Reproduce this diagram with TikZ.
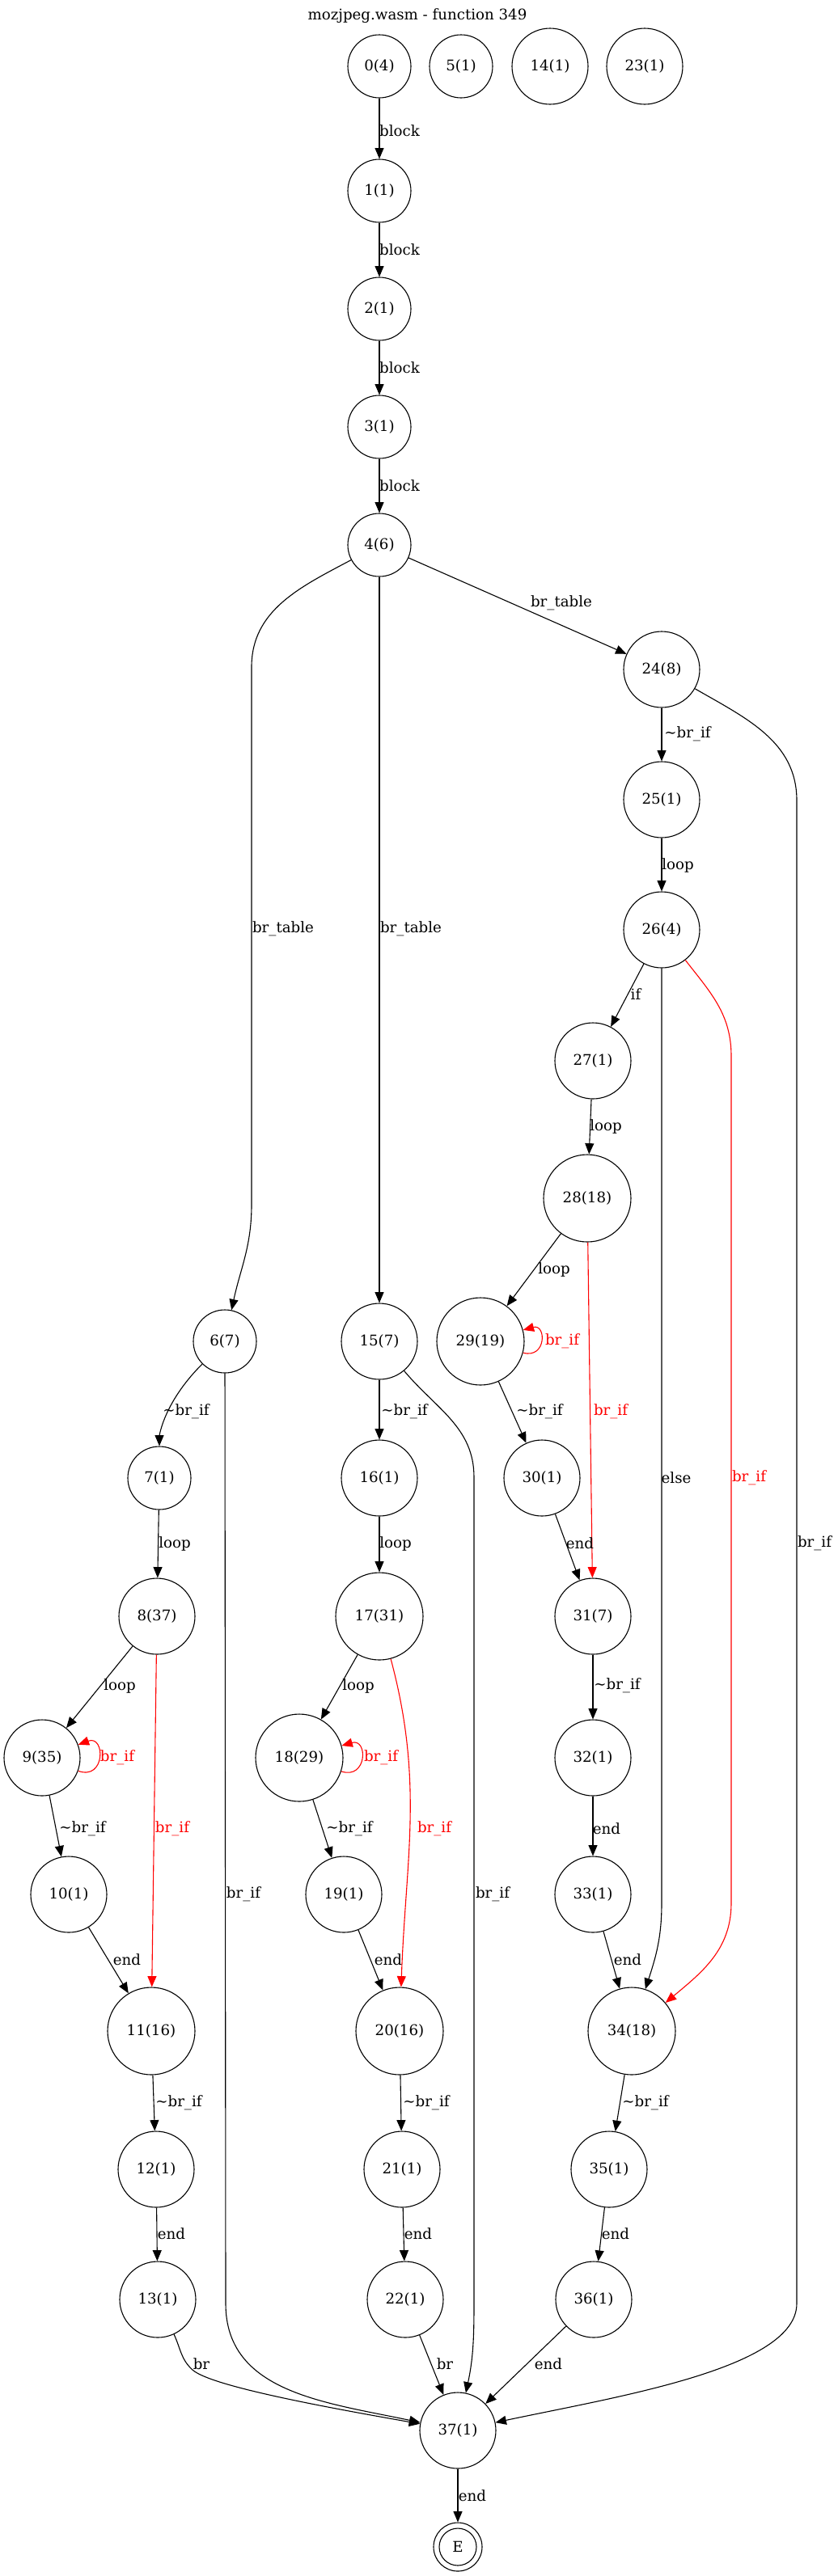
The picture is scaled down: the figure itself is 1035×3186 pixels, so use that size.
\documentclass[tikz,border=0pt]{standalone}
\usepackage{fontspec}
\setmainfont{DejaVu Serif}
\usetikzlibrary{arrows.meta}
\tikzset{
  bblock/.style={circle, draw, line width=0.55pt, inner sep=0pt, minimum size=#1},
  bblock/.default=39pt,
  flow/.style={draw, line width=0.55pt, -{Triangle[length=6.7pt,width=5.5pt]}},
  rflow/.style={flow, red},
  elab/.style={inner sep=0pt},
  relab/.style={elab, text=red},
}
\newcommand{\nbr}{\textasciitilde br\_if}
\begin{document}
\begin{tikzpicture}[x=0.5pt, y=-0.5pt, font=\fontsize{9.1}{11}\selectfont]
\useasboundingbox (0,0) rectangle (1035,3186);
\node (title) at (516,20) {mozjpeg.wasm - function 349};
% blocks, top row
\node[bblock] (b0) at (469,82) {0(4)};
\node[bblock] (b5) at (570,82) {5(1)};
\node[bblock=47pt] (b14) at (680,82) {14(1)};
\node[bblock=47pt] (b23) at (797,82) {23(1)};
\node[bblock] (b1) at (469,236) {1(1)};
\node[bblock] (b2) at (469,382) {2(1)};
\node[bblock] (b3) at (469,528) {3(1)};
\node[bblock] (b4) at (469,674) {4(6)};
% right branch
\node[bblock=47pt] (b24) at (818,828) {24(8)};
\node[bblock=47pt] (b25) at (818,989) {25(1)};
\node[bblock=47pt] (b26) at (818,1150) {26(4)};
\node[bblock=47pt] (b27) at (733,1312) {27(1)};
\node[bblock=54pt] (b28) at (726,1482) {28(18)};
\node[bblock=54pt] (b29) at (594,1659) {29(19)};
\node[bblock=47pt] (b30) at (670,1828) {30(1)};
\node[bblock=47pt] (b31) at (733,1999) {31(7)};
\node[bblock=47pt] (b32) at (733,2174) {32(1)};
\node[bblock=47pt] (b33) at (733,2343) {33(1)};
\node[bblock=54pt] (b34) at (781,2512) {34(18)};
\node[bblock=47pt] (b35) at (753,2683) {35(1)};
\node[bblock=47pt] (b36) at (734,2844) {36(1)};
% left branch
\node[bblock] (b6) at (278,1659) {6(7)};
\node[bblock] (b7) at (197,1828) {7(1)};
\node[bblock=47pt] (b8) at (194,1999) {8(37)};
\node[bblock=47pt] (b9) at (52,2174) {9(35)};
\node[bblock=47pt] (b10) at (85,2343) {10(1)};
\node[bblock=54pt] (b11) at (187,2512) {11(16)};
\node[bblock=47pt] (b12) at (193,2683) {12(1)};
\node[bblock=47pt] (b13) at (195,2844) {13(1)};
% middle branch
\node[bblock=47pt] (b15) at (469,1659) {15(7)};
\node[bblock=47pt] (b16) at (469,1828) {16(1)};
\node[bblock=54pt] (b17) at (469,1999) {17(31)};
\node[bblock=54pt] (b18) at (370,2174) {18(29)};
\node[bblock=47pt] (b19) at (425,2343) {19(1)};
\node[bblock=54pt] (b20) at (494,2512) {20(16)};
\node[bblock=47pt] (b21) at (497,2683) {21(1)};
\node[bblock=47pt] (b22) at (501,2844) {22(1)};
% exit
\node[bblock=47pt] (b37) at (566,3006) {37(1)};
\node[bblock=30pt] (bE) at (566,3150) {E};
\draw[line width=0.55pt] (bE.center) circle[radius=11.5pt];
% entry edges
\draw[flow] (b0) -- (b1) node[elab] at (494,162) {block};
\draw[flow] (b1) -- (b2) node[elab] at (494,309) {block};
\draw[flow] (b2) -- (b3) node[elab] at (494,455) {block};
\draw[flow] (b3) -- (b4) node[elab] at (494,601) {block};
\draw[flow] (b4) -- (b24) node[elab] at (694,746) {br\_table};
\draw[flow] (b4) to[out=208,in=90] (311,825) -- (311,1490) to[out=-90,in=78] (b6);
\node[elab] at (350,1149) {br\_table};
\draw[flow] (b4) -- (b15) node[elab] at (508,1149) {br\_table};
% right branch edges
\draw[flow] (b24) -- (b25) node[elab] at (850,908) {\nbr};
\draw[flow] (b24) to[out=-30,in=90] (985,990) -- (985,2849) to[out=-90,in=12,out distance=40pt] (b37);
\node[elab] at (1007,1909) {br\_if};
\draw[flow] (b25) -- (b26) node[elab] at (838,1070) {loop};
\draw[flow] (b26) -- (b27) node[elab] at (786,1230) {if};
\draw[flow] (b26) -- (818,2354) to[out=-90,in=72] (b34);
\node[elab] at (836,1828) {else};
\draw[rflow] (b26) to[out=-52,in=90] (904,1306) -- (904,2354) to[out=-90,in=40] (b34);
\node[relab] at (926,1828) {br\_if};
\draw[flow] (b27) -- (b28) node[elab] at (749,1393) {loop};
\draw[flow] (b28) -- (b29) node[elab] at (685,1570) {loop};
\draw[rflow] (b28) -- (b31) node[relab] at (755,1746) {br\_if};
\draw[rflow] (b29) to[out=-15,in=15,distance=15pt] (b29);
\node[relab] at (695,1659) {br\_if};
\draw[flow] (b29) -- (b30) node[elab] at (667,1746) {\nbr};
\draw[flow] (b30) -- (b31) node[elab] at (717,1909) {end};
\draw[flow] (b31) -- (b32) node[elab] at (763,2085) {\nbr};
\draw[flow] (b32) -- (b33) node[elab] at (750,2262) {end};
\draw[flow] (b33) -- (b34) node[elab] at (776,2424) {end};
\draw[flow] (b34) -- (b35) node[elab] at (798,2601) {\nbr};
\draw[flow] (b35) -- (b36) node[elab] at (761,2763) {end};
\draw[flow] (b36) -- (b37) node[elab] at (678,2924) {end};
% left branch edges
\draw[flow] (b6) to[out=-135,in=90,out distance=35pt,in distance=5pt] (b7);
\node[elab] at (230,1746) {\nbr};
\draw[flow] (b6) -- (279,2849) to[out=-90,in=168,in distance=60pt] (b37);
\node[elab] at (301,2343) {br\_if};
\draw[flow] (b7) -- (b8) node[elab] at (216,1909) {loop};
\draw[flow] (b8) -- (b9) node[elab] at (148,2085) {loop};
\draw[rflow] (b8) -- (b11) node[relab] at (213,2262) {br\_if};
\draw[rflow] (b9) to[out=-20,in=20,distance=18pt] (b9);
\node[relab] at (145,2174) {br\_if};
\draw[flow] (b9) -- (b10) node[elab] at (102,2262) {\nbr};
\draw[flow] (b10) -- (b11) node[elab] at (157,2424) {end};
\draw[flow] (b11) -- (b12) node[elab] at (221,2601) {\nbr};
\draw[flow] (b12) -- (b13) node[elab] at (212,2763) {end};
\draw[flow] (b13) to[out=-65,in=138] (238,2931) to[out=-42,in=170,out distance=15pt,in distance=60pt] (b37);
\node[elab] at (249,2924) {br};
% middle branch edges
\draw[flow] (b15) -- (b16) node[elab] at (500,1746) {\nbr};
\draw[flow] (b15) to[out=-50,in=90] (586,1827) -- (586,2849) to[out=-90,in=78] (b37);
\node[elab] at (609,2343) {br\_if};
\draw[flow] (b16) -- (b17) node[elab] at (489,1909) {loop};
\draw[flow] (b17) -- (b18) node[elab] at (443,2085) {loop};
\draw[rflow] (b17) to[out=-75,in=88] (b20);
\node[relab] at (537,2262) {br\_if};
\draw[rflow] (b18) to[out=-18,in=16,distance=17pt] (b18);
\node[relab] at (471,2174) {br\_if};
\draw[flow] (b18) -- (b19) node[elab] at (432,2262) {\nbr};
\draw[flow] (b19) -- (b20) node[elab] at (480,2424) {end};
\draw[flow] (b20) -- (b21) node[elab] at (527,2601) {\nbr};
\draw[flow] (b21) -- (b22) node[elab] at (517,2763) {end};
\draw[flow] (b22) -- (b37) node[elab] at (550,2924) {br};
% exit edge
\draw[flow] (b37) -- (bE) node[elab] at (584,3087) {end};
\end{tikzpicture}
\end{document}
